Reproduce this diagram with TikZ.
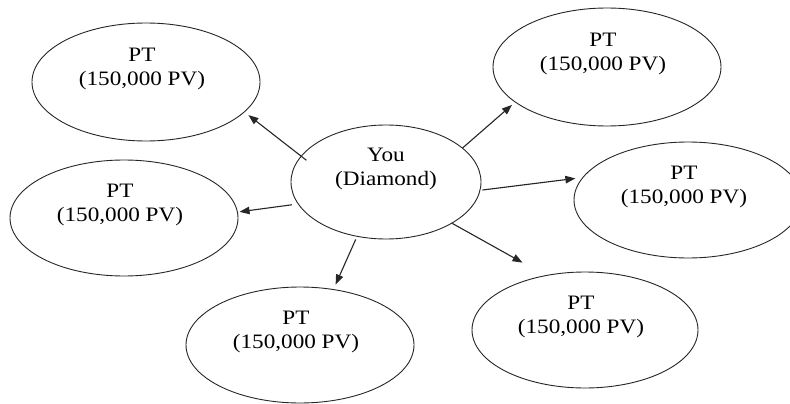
\documentclass[tikz,border=0pt]{standalone}
\usepackage{fontspec}
\setmainfont{Liberation Serif}[FakeStretch=1.13]
\usetikzlibrary{arrows.meta,shapes.geometric}
\begin{document}
\begin{tikzpicture}[x=1pt,y=-1pt,
  bubble/.style={draw=black!85, line width=0.9pt, ellipse, inner sep=0pt,
    minimum width=228pt, minimum height=116pt},
  lbl/.style={align=center, inner sep=0pt, yshift=13pt,
    font=\fontsize{20.5}{24.5}\selectfont},
  ptlbl/.style={lbl, xshift=-4pt},
  arr/.style={-{Triangle[length=10pt,width=7.5pt]}, line width=1.1pt, draw=black!85}]
  % page
  \fill[white] (0,0) rectangle (790,404);
  \useasboundingbox (0,0) rectangle (790,404);

  % centre bubble
  \node[bubble, minimum width=190pt, minimum height=114pt,
        label={[lbl]center:You\\(Diamond)}] (you) at (386,182) {};

  % downline bubbles
  \node[bubble, minimum height=118pt,
        label={[ptlbl]center:PT\\(150,000 PV)}] (tl) at (146,82) {};
  \node[bubble,
        label={[ptlbl]center:PT\\(150,000 PV)}] (lm) at (124,218) {};
  \node[bubble,
        label={[ptlbl]center:PT\\(150,000 PV)}] (bl) at (300,345) {};
  \node[bubble, minimum height=118pt,
        label={[ptlbl]center:PT\\(150,000 PV)}] (tr) at (607,67) {};
  \node[bubble,
        label={[ptlbl]center:PT\\(150,000 PV)}] (rm) at (688,200) {};
  \node[bubble, minimum width=226pt,
        label={[ptlbl]center:PT\\(150,000 PV)}] (br) at (585,330) {};

  % connectors
  \draw[arr, shorten <=-7pt, shorten >=4.8pt] (you.163.8) -- (tl.-17.2);
  \draw[arr, shorten <=6pt, shorten >=1.7pt] (you.194.5) -- (lm.3.5);
  \draw[arr, shorten <=3pt, shorten >=5pt] (you.242.2) -- (bl.59.3);
  \draw[arr, shorten >=4pt] (you.24.4) -- (tr.201.3);
  \draw[arr, shorten <=2pt, shorten >=7pt] (you.-5.9) -- (rm.168.9);
  \draw[arr, shorten >=26pt] (you.-32.6) -- (br.126.5);
\end{tikzpicture}
\end{document}
